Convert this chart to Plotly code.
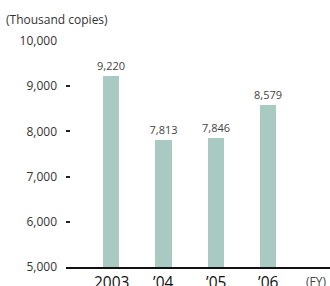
import plotly.graph_objects as go

categories = ["2003", "\u201904", "\u201905", "\u201906"]
values = [9220, 7813, 7846, 8579]
value_labels = ["9,220", "7,813", "7,846", "8,579"]
y_ticks = [5000, 6000, 7000, 8000, 9000, 10000]
y_tick_labels = ["5,000", "6,000", "7,000", "8,000", "9,000", "10,000"]

xpos = list(range(len(categories)))

fig = go.Figure()
fig.add_trace(go.Bar(
    x=xpos, y=values, width=0.31,
    marker=dict(color="#a9c9c3", line=dict(width=0)),
    text=value_labels, textposition="outside", constraintext="none",
    textfont=dict(size=11, color="#444", family="Open Sans"),
    cliponaxis=False, hoverinfo="skip",
))

fig.update_layout(
    width=330, height=286,
    margin=dict(l=66, r=0, t=41, b=19, autoexpand=False),
    plot_bgcolor="white", paper_bgcolor="white",
    showlegend=False,
    font=dict(family="Open Sans", color="#333"),
    bargap=0,
)
fig.update_xaxes(
    range=[-0.86, 4.18], tickvals=xpos, ticktext=[""] * len(xpos),
    showgrid=False, zeroline=False, automargin=False,
    showline=True, linecolor="#111", linewidth=1.5,
    ticks="",
)
fig.update_yaxes(
    range=[5000, 10000], tickvals=y_ticks, ticktext=y_tick_labels,
    tickfont=dict(size=12, color="#333", family="Open Sans"),
    showgrid=False, zeroline=False, showline=False, automargin=False,
    ticks="inside", ticklen=4, tickcolor="#222", tickwidth=1.5,
    ticklabelstandoff=8,
)
for xp, cat in zip(xpos, categories):
    fig.add_annotation(text=cat, x=xp, xref="x", y=0, yref="paper",
                       yshift=-15, xanchor="center", yanchor="middle",
                       showarrow=False,
                       font=dict(size=15.5, color="#111", family="Open Sans"))
fig.add_annotation(text="(Thousand copies)", xref="paper", yref="paper",
                   x=-62/264, y=1, yshift=22, xanchor="left", yanchor="middle",
                   showarrow=False, font=dict(size=12, color="#333", family="Open Sans"))
fig.add_annotation(text="(FY)", xref="paper", yref="paper",
                   x=1, y=0, yshift=-14, xshift=-2, xanchor="right", yanchor="middle",
                   showarrow=False, font=dict(size=12, color="#444", family="Open Sans"))

fig.write_html("out.html", config={"displayModeBar": False},
               post_script="document.body.style.margin='0';document.body.style.overflow='hidden';")
